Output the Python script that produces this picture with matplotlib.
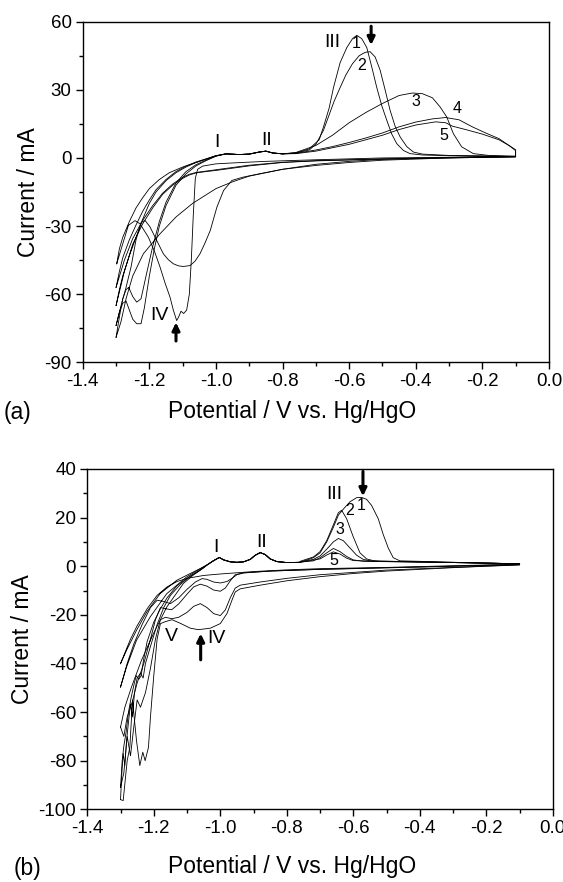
import numpy as np
import matplotlib.pyplot as plt
from matplotlib.ticker import MultipleLocator

plt.rcParams['font.family'] = ['Liberation Sans', 'DejaVu Sans']
plt.rcParams['axes.unicode_minus'] = False

# ---------------- panel (a) data: potential (V) / current (mA) ----------------
# anodic I/II region shared by all cycles in (a)
a_mid_x = [-0.97, -0.93, -0.90, -0.87, -0.85, -0.83, -0.80]
a_mid_y = [1.8, 1.5, 1.7, 2.6, 3.0, 2.2, 1.8]

a1_fx = [-1.298, -1.29, -1.28, -1.26, -1.24, -1.22, -1.20, -1.17, -1.14, -1.10, -1.06, -1.03, -1.00]
a1_fy = [-46.6, -40, -35, -28, -22, -17.5, -13.5, -9.5, -6.5, -4.0, -2.0, -0.6, 1.0]
a1_px = [-0.76, -0.72, -0.69, -0.677, -0.66, -0.647, -0.627, -0.607, -0.59, -0.577, -0.562, -0.547,
         -0.532, -0.517, -0.502, -0.487, -0.472, -0.457, -0.437, -0.417, -0.38, -0.30, -0.20, -0.10]
a1_py = [2.2, 4.0, 8.0, 13.7, 22, 31, 42, 48.6, 52.5, 54, 52.5, 48.6,
         40, 31, 23, 16.6, 10.5, 6.3, 3.3, 1.9, 1.3, 1.0, 0.8, 0.6]
a1_rx = [-0.10, -0.30, -0.50, -0.70, -0.85, -0.95, -1.00, -1.04, -1.055, -1.062, -1.068, -1.074, -1.08,
         -1.088, -1.097, -1.105, -1.112, -1.118, -1.128, -1.138, -1.153, -1.168, -1.185, -1.203, -1.228,
         -1.243, -1.263, -1.283, -1.298]
a1_ry = [0.6, 0.3, 0.0, -0.8, -1.5, -2.2, -2.6, -3.6, -5.0, -9, -25, -45, -60,
         -67, -68.5, -67.5, -70, -71.6, -67, -61.3, -55, -48, -41, -34.9, -29,
         -27.6, -29.7, -39.3, -46.6]

a2_fx = [-1.30, -1.29, -1.28, -1.27, -1.26, -1.25, -1.238, -1.225, -1.215, -1.20, -1.185, -1.17, -1.15,
         -1.12, -1.09, -1.06, -1.03, -1.00]
a2_fy = [-73.8, -68, -64, -63, -67, -71, -73, -73, -66, -52, -40, -30, -21, -12, -7, -3.5, -1.2, 0.8]
a2_px = [-0.76, -0.72, -0.70, -0.677, -0.66, -0.645, -0.627, -0.61, -0.59, -0.57, -0.552, -0.537, -0.522,
         -0.507, -0.492, -0.477, -0.462, -0.447, -0.427, -0.407, -0.38, -0.30, -0.20, -0.10]
a2_py = [2.2, 3.5, 6.0, 12.2, 19, 25, 31, 36.5, 41.5, 45, 46.5, 46.8, 44.5,
         38.7, 30, 21, 14, 9.3, 5.0, 2.6, 1.7, 1.1, 0.9, 0.6]
a2_rx = [-0.10, -0.30, -0.50, -0.60, -0.70, -0.80, -0.87, -0.92, -0.952, -0.977, -0.997, -1.017, -1.033,
         -1.048, -1.063, -1.078, -1.098, -1.113, -1.128, -1.143, -1.158, -1.178, -1.198, -1.213, -1.225,
         -1.24, -1.255, -1.27, -1.285, -1.30]
a2_ry = [0.6, 0.2, -0.6, -1.5, -2.8, -5.0, -7.0, -8.5, -9.9, -14.3, -21.6, -31.9, -37.5,
         -42.2, -45.5, -47.4, -47.8, -47.5, -46.6, -44.8, -42.2, -36.3, -30.4, -27.5, -28.5,
         -36, -48, -57, -65, -73.8]

a3_fx = [-1.30, -1.29, -1.28, -1.27, -1.262, -1.25, -1.238, -1.225, -1.21, -1.19, -1.17, -1.15, -1.12,
         -1.09, -1.06, -1.03, -1.00]
a3_fy = [-79, -70, -62, -58, -57, -61, -63.5, -62, -52, -39, -28, -19.5, -11, -6, -3, -1, 0.8]
a3_px = [-0.76, -0.70, -0.65, -0.60, -0.55, -0.50, -0.45, -0.41, -0.38, -0.35, -0.327, -0.307, -0.287,
         -0.262, -0.227, -0.18, -0.10]
a3_py = [2.4, 5.5, 10, 15.5, 20, 24, 27.5, 28.6, 28.3, 26.5, 22.5, 18.1, 10.7, 4.9, 1.9, 1.1, 0.8]
a3_rx = [-0.10, -0.30, -0.50, -0.60, -0.70, -0.80, -0.90, -0.95, -1.00, -1.07, -1.12, -1.168, -1.218,
         -1.25, -1.27, -1.285, -1.30]
a3_ry = [0.5, 0.0, -1.0, -2.0, -3.3, -5.0, -8.0, -10.5, -13.5, -20, -26, -33.4, -42.2,
         -52, -62, -72, -79]

a4_fx = [-1.30, -1.29, -1.28, -1.26, -1.24, -1.22, -1.20, -1.18, -1.15, -1.12, -1.09, -1.06, -1.03, -1.00]
a4_fy = [-65, -58, -52, -43, -35, -27, -20, -15, -10, -6.5, -4.0, -2.0, -0.5, 0.9]
a4_px = [-0.76, -0.70, -0.65, -0.60, -0.55, -0.50, -0.45, -0.40, -0.35, -0.31, -0.27, -0.23, -0.19,
         -0.15, -0.12, -0.10]
a4_py = [2.0, 3.5, 5.0, 6.8, 8.8, 11, 13.7, 15.8, 17.2, 17.8, 16.8, 13.7, 11, 8.5, 5.5, 3.6]
a4_rx = [-0.10, -0.30, -0.50, -0.70, -0.80, -0.90, -0.95, -1.00, -1.03, -1.06, -1.08, -1.10, -1.13,
         -1.16, -1.19, -1.22, -1.25, -1.275, -1.30]
a4_ry = [0.5, 0.0, -0.5, -1.3, -2.0, -3.5, -4.5, -5.5, -6.0, -6.6, -7.5, -9, -12,
         -16, -22, -29, -38, -50, -65]

a5_fx = [-1.30, -1.29, -1.28, -1.26, -1.24, -1.22, -1.20, -1.18, -1.15, -1.12, -1.09, -1.06, -1.03, -1.00]
a5_fy = [-57, -50, -44, -36, -29.5, -23.5, -18.5, -14, -9.5, -6.0, -3.6, -1.8, -0.4, 1.0]
a5_px = [-0.76, -0.70, -0.60, -0.50, -0.45, -0.40, -0.34, -0.31, -0.29, -0.25, -0.20, -0.15, -0.12, -0.10]
a5_py = [1.9, 3.0, 6.0, 10, 12.5, 14.5, 15.9, 15.5, 14, 12.5, 10.5, 8.0, 5.5, 3.2]
a5_rx = [-0.10, -0.30, -0.50, -0.70, -0.80, -0.90, -0.95, -1.00, -1.03, -1.06, -1.08, -1.10, -1.13,
         -1.16, -1.19, -1.22, -1.25, -1.275, -1.30]
a5_ry = [0.5, 0.1, -0.4, -1.2, -1.9, -3.2, -4.2, -5.2, -5.8, -6.4, -7.2, -8.5, -11.5,
         -15.5, -21, -27.5, -35.5, -45, -57]

# ---------------- panel (b) data ----------------
b_mid_x = [-1.04, -1.02, -1.003, -0.99, -0.97, -0.95, -0.93, -0.91, -0.895, -0.88, -0.865, -0.85, -0.83,
           -0.80, -0.76]
b_mid_y = [0.5, 2.3, 3.6, 2.6, 1.8, 1.6, 1.8, 2.8, 4.5, 5.6, 4.8, 3.0, 1.9, 1.5, 1.6]

b1_fx = [-1.30, -1.296, -1.292, -1.287, -1.282, -1.276, -1.27, -1.264, -1.258, -1.25, -1.24, -1.232, -1.225,
         -1.21, -1.19, -1.17, -1.15, -1.12, -1.09, -1.06]
b1_fy = [-96, -85, -77, -82, -72, -64, -56.6, -62, -52, -46, -44, -46, -40,
         -33, -24, -17, -12, -7.5, -4.0, -1.5]
b1_px = [-0.72, -0.70, -0.68, -0.66, -0.645, -0.63, -0.61, -0.59, -0.575, -0.56, -0.545, -0.525,
         -0.51, -0.495, -0.48, -0.46, -0.40, -0.30, -0.20, -0.10]
b1_py = [3.5, 5.5, 10, 16, 21, 23.5, 26.5, 28.2, 28.3, 27.5, 25, 19.5,
         13, 7.5, 3.5, 2.2, 2.0, 1.6, 1.3, 1.0]
b1_rx = [-0.10, -0.20, -0.30, -0.40, -0.50, -0.60, -0.70, -0.80, -0.88, -0.94, -0.955, -0.965, -0.98,
         -1.00, -1.03, -1.066, -1.09, -1.12, -1.145, -1.165, -1.18, -1.19, -1.20, -1.21, -1.216, -1.226,
         -1.233, -1.242, -1.252, -1.264, -1.272, -1.28, -1.292, -1.30]
b1_ry = [0.5, 0.0, -0.6, -1.3, -2.0, -3.0, -4.3, -6.0, -7.8, -9.3, -10.6, -14, -19.5,
         -23.6, -25.5, -26.1, -25.5, -23.5, -22, -22.8, -23.6, -30, -45, -62, -74.5, -80,
         -76.5, -82, -71.7, -55, -74.5, -80, -96.4, -96]

b2_fx = [-1.30, -1.295, -1.29, -1.283, -1.276, -1.268, -1.26, -1.253, -1.245, -1.238, -1.23, -1.22, -1.20,
         -1.18, -1.16, -1.13, -1.10, -1.07, -1.05]
b2_fy = [-91, -80, -74, -68, -60, -54, -49, -45, -46.5, -45, -38, -31, -23,
         -17.5, -13, -8.0, -5.0, -2.5, -0.5]
b2_px = [-0.76, -0.72, -0.70, -0.68, -0.66, -0.645, -0.635, -0.62, -0.60, -0.58, -0.56, -0.54, -0.52,
         -0.48, -0.30, -0.10]
b2_py = [2.0, 3.8, 6.0, 10.5, 17, 22, 23, 19.5, 12, 5.5, 3.0, 2.3, 2.1, 2.0, 1.6, 1.0]
b2_rx = [-0.10, -0.30, -0.50, -0.70, -0.80, -0.88, -0.94, -0.955, -0.97, -0.985, -1.00, -1.02, -1.04,
         -1.06, -1.08, -1.10, -1.125, -1.146, -1.165, -1.18, -1.195, -1.21, -1.225, -1.24, -1.25,
         -1.26, -1.27, -1.28, -1.29, -1.30]
b2_ry = [0.6, -0.5, -1.6, -3.5, -5.0, -6.5, -7.8, -9.0, -13, -18, -20.3, -19.5, -17,
         -15.4, -16.5, -19, -21, -21.6, -21, -22, -30, -42, -52, -58, -55,
         -66, -78, -70, -85, -91]

b3_fx = [-1.30, -1.287, -1.267, -1.237, -1.201, -1.161, -1.111, -1.08, -1.05]
b3_fy = [-66.2, -58, -49.7, -38.7, -27.7, -16.8, -7.1, -3.5, -0.7]
b3_px = [-0.76, -0.72, -0.70, -0.68, -0.66, -0.645, -0.63, -0.61, -0.59, -0.57, -0.54, -0.30, -0.10]
b3_py = [1.8, 2.8, 4.2, 7.0, 10, 11.4, 10.5, 7.5, 4.5, 2.8, 2.0, 1.5, 1.0]
b3_rx = [-0.10, -0.30, -0.50, -0.70, -0.85, -0.93, -0.955, -0.97, -0.985, -1.00, -1.02, -1.04, -1.06,
         -1.08, -1.10, -1.125, -1.146, -1.165, -1.18, -1.195, -1.21, -1.23, -1.25, -1.265, -1.28,
         -1.29, -1.30]
b3_ry = [0.7, 0.0, -0.6, -1.3, -2.0, -2.7, -3.5, -6.0, -9.0, -10.3, -9.8, -8.2, -7.4,
         -8.5, -11.5, -15.5, -17.9, -17.5, -17, -22, -30, -40, -48, -56, -62,
         -70, -66.2]

b4_fx = [-1.30, -1.282, -1.252, -1.211, -1.161, -1.101, -1.051]
b4_fy = [-49.7, -41.5, -30.5, -20.9, -11.3, -4.4, -0.3]
b4_px = [-0.76, -0.72, -0.70, -0.68, -0.66, -0.64, -0.62, -0.60, -0.57, -0.30, -0.10]
b4_py = [1.7, 2.2, 3.5, 5.5, 7.3, 6.0, 4.0, 2.6, 2.0, 1.5, 1.0]
b4_rx = [-0.10, -0.30, -0.50, -0.70, -0.85, -0.93, -0.95, -0.965, -0.98, -1.00, -1.02, -1.04, -1.055,
         -1.075, -1.10, -1.125, -1.15, -1.17, -1.19, -1.21, -1.235, -1.26, -1.28, -1.30]
b4_ry = [0.8, 0.0, -0.7, -1.3, -2.0, -2.8, -3.5, -5.0, -6.3, -6.9, -6.5, -5.4, -5.1,
         -6.5, -9.5, -13, -15.4, -14.5, -14, -17, -24, -32, -40, -49.7]

b5_fx = [-1.30, -1.282, -1.252, -1.221, -1.181, -1.131, -1.061]
b5_fy = [-40.1, -34.6, -26.4, -18.8, -11.3, -5.8, -1.0]
b5_px = [-0.76, -0.70, -0.68, -0.66, -0.64, -0.62, -0.60, -0.30, -0.10]
b5_py = [1.6, 3.0, 4.6, 5.9, 5.0, 3.3, 2.3, 1.5, 1.0]
b5_rx = [-0.10, -0.30, -0.50, -0.70, -0.80, -0.90, -0.95, -1.00, -1.05, -1.10, -1.13, -1.16, -1.19,
         -1.22, -1.25, -1.27, -1.285, -1.30]
b5_ry = [0.8, 0.2, -0.5, -1.0, -1.5, -2.2, -2.7, -3.2, -3.8, -5.0, -6.3, -8.5, -12,
         -17.5, -24.5, -30, -35, -40.1]


def loop(fx, fy, mx, my, px, py, rx, ry):
    x = list(fx) + list(mx) + list(px) + list(rx)
    y = list(fy) + list(my) + list(py) + list(ry)
    return x, y


fig = plt.figure(figsize=(5.63, 8.82), dpi=100)
ax_a = fig.add_axes([0.147, 0.5892, 0.828, 0.3862])
ax_b = fig.add_axes([0.155, 0.0824, 0.827, 0.3859])

cycles_a = [(a1_fx, a1_fy, a1_px, a1_py, a1_rx, a1_ry),
            (a2_fx, a2_fy, a2_px, a2_py, a2_rx, a2_ry),
            (a3_fx, a3_fy, a3_px, a3_py, a3_rx, a3_ry),
            (a4_fx, a4_fy, a4_px, a4_py, a4_rx, a4_ry),
            (a5_fx, a5_fy, a5_px, a5_py, a5_rx, a5_ry)]
for fx, fy, px, py, rx, ry in cycles_a:
    x, y = loop(fx, fy, a_mid_x, a_mid_y, px, py, rx, ry)
    ax_a.plot(x, y, color='black', lw=0.6)

cycles_b = [(b1_fx, b1_fy, b1_px, b1_py, b1_rx, b1_ry),
            (b2_fx, b2_fy, b2_px, b2_py, b2_rx, b2_ry),
            (b3_fx, b3_fy, b3_px, b3_py, b3_rx, b3_ry),
            (b4_fx, b4_fy, b4_px, b4_py, b4_rx, b4_ry),
            (b5_fx, b5_fy, b5_px, b5_py, b5_rx, b5_ry)]
for fx, fy, px, py, rx, ry in cycles_b:
    x, y = loop(fx, fy, b_mid_x, b_mid_y, px, py, rx, ry)
    ax_b.plot(x, y, color='black', lw=0.6)

for ax in (ax_a, ax_b):
    ax.set_xlim(-1.4, 0.0)
    ax.xaxis.set_major_locator(MultipleLocator(0.2))
    ax.xaxis.set_minor_locator(MultipleLocator(0.1))
    ax.tick_params(which='major', direction='out', length=5, width=1, labelsize=13.5, pad=3)
    ax.tick_params(which='minor', direction='out', length=3, width=1)
    for s in ax.spines.values():
        s.set_linewidth(1.0)
    ax.xaxis.set_major_formatter(plt.FuncFormatter(lambda v, p: f"{v:.1f}"))

ax_a.set_ylim(-90, 60)
ax_a.yaxis.set_major_locator(MultipleLocator(30))
ax_a.yaxis.set_minor_locator(MultipleLocator(15))
ax_b.set_ylim(-100, 40)
ax_b.yaxis.set_major_locator(MultipleLocator(20))
ax_b.yaxis.set_minor_locator(MultipleLocator(10))

lab = 16.5
ax_a.set_ylabel('Current / mA', fontsize=lab, labelpad=3)
ax_b.set_ylabel('Current / mA', fontsize=lab, labelpad=3)
fig.text(0.518, 1 - 412 / 882, 'Potential / V vs. Hg/HgO', ha='center', va='center', fontsize=lab)
fig.text(0.518, 1 - 867 / 882, 'Potential / V vs. Hg/HgO', ha='center', va='center', fontsize=lab)
fig.text(0.006, 1 - 413 / 882, '(a)', ha='left', va='center', fontsize=lab)
fig.text(0.025, 1 - 869 / 882, '(b)', ha='left', va='center', fontsize=lab)

big = 14
small = 11.5
arrow = dict(arrowstyle='-|>,head_width=0.22,head_length=0.45', color='black', lw=2.2,
             shrinkA=0, shrinkB=0)

ax_a.text(-0.652, 51, 'III', fontsize=big, ha='center', va='center')
ax_a.text(-0.998, 7, 'I', fontsize=big, ha='center', va='center')
ax_a.text(-0.849, 7.8, 'II', fontsize=big, ha='center', va='center')
ax_a.text(-1.17, -69.4, 'IV', fontsize=big, ha='center', va='center')
for t, xx, yy in [('1', -0.579, 50.4), ('2', -0.562, 40.9), ('3', -0.399, 24.7),
                  ('4', -0.275, 21.8), ('5', -0.315, 10)]:
    ax_a.text(xx, yy, t, fontsize=small, ha='center', va='center')
ax_a.annotate('', xy=(-0.534, 49.7), xytext=(-0.534, 58.0), arrowprops=arrow)
ax_a.annotate('', xy=(-1.12, -72.4), xytext=(-1.12, -80.6), arrowprops=arrow)

ax_b.text(-0.657, 29.7, 'III', fontsize=big, ha='center', va='center')
ax_b.text(-1.013, 7.6, 'I', fontsize=big, ha='center', va='center')
ax_b.text(-0.875, 9.8, 'II', fontsize=big, ha='center', va='center')
ax_b.text(-1.011, -29.8, 'IV', fontsize=big, ha='center', va='center')
ax_b.text(-1.148, -28.8, 'V', fontsize=big, ha='center', va='center')
for t, xx, yy in [('1', -0.577, 25.1), ('2', -0.61, 22.8), ('3', -0.64, 15.1), ('5', -0.66, 2.2)]:
    ax_b.text(xx, yy, t, fontsize=small, ha='center', va='center')
ax_b.annotate('', xy=(-0.571, 28.8), xytext=(-0.571, 39.0), arrowprops=arrow)
ax_b.annotate('', xy=(-1.059, -27.7), xytext=(-1.059, -38.5), arrowprops=arrow)

fig.savefig('out.png', dpi=100)
